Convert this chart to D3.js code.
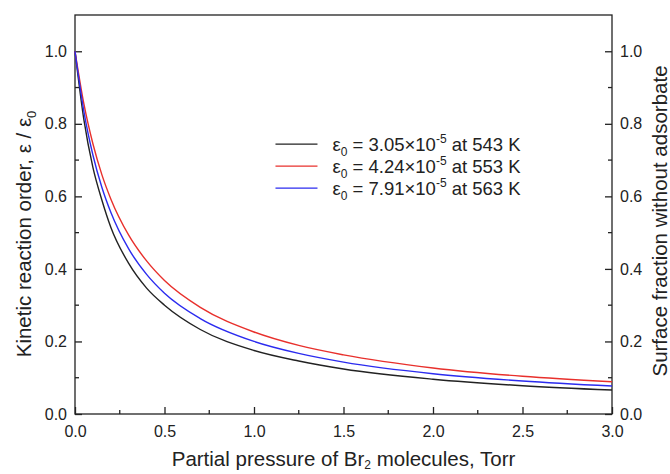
<!DOCTYPE html>
<html>
<head>
<meta charset="utf-8">
<script src="https://cdn.jsdelivr.net/npm/d3@7"></script>
<style>
  body { margin: 0; background: #fff; }
  svg { display: block; font-family: "Liberation Sans", Arial, sans-serif; }
  .tick text { fill: #222; font-size: 16px; }
  .axis path, .axis line { stroke: #222; stroke-width: 1.3; }
  .title { fill: #222; font-size: 20.5px; }
  .leg { fill: #222; font-size: 18.5px; }
</style>
</head>
<body>
<div id="chart"></div>
<script>
// Pressure grid (Torr) the curves were read at
const pressure = [0, 0.05, 0.1, 0.15, 0.2, 0.3, 0.4, 0.5, 0.7, 1.0, 1.25, 1.5, 2.0, 2.5, 3.0];
// eps / eps0
const k543 = [1.0, 0.81, 0.68, 0.59, 0.515, 0.415, 0.347, 0.30, 0.233, 0.175, 0.146, 0.124, 0.096, 0.078, 0.066];
const k553 = [1.0, 0.854, 0.745, 0.66, 0.593, 0.493, 0.422, 0.368, 0.294, 0.226, 0.189, 0.163, 0.127, 0.104, 0.089];
const k563 = [1.0, 0.833, 0.714, 0.625, 0.556, 0.455, 0.385, 0.333, 0.263, 0.20, 0.167, 0.143, 0.111, 0.091, 0.077];

const seriesNames = [
  { eps: "3.05", temp: "543", color: "#222222", vals: k543 },
  { eps: "4.24", temp: "553", color: "#e8302c", vals: k553 },
  { eps: "7.91", temp: "563", color: "#2b2bef", vals: k563 }
];
const xTicks = [0, 0.5, 1.0, 1.5, 2.0, 2.5, 3.0];
const yTicks = [0, 0.2, 0.4, 0.6, 0.8, 1.0];

const width = 670, height = 474;
const m = { top: 15, right: 58, bottom: 60, left: 75 };
const iW = width - m.left - m.right, iH = height - m.top - m.bottom;

const x = d3.scaleLinear([0, 3], [0, iW]);
const y = d3.scaleLinear([0, 1.1], [iH, 0]);

const svg = d3.select("#chart").append("svg").attr("width", width).attr("height", height);
const g = svg.append("g").attr("transform", `translate(${m.left},${m.top})`);

// frame
g.append("rect").attr("width", iW).attr("height", iH)
  .attr("fill", "none").attr("stroke", "#222").attr("stroke-width", 1.3);

// minor ticks (inward)
const xMinor = d3.range(0.25, 3, 0.5);
const yMinor = d3.range(0.1, 1.1, 0.2);
g.append("g").attr("class", "axis").selectAll("line").data(xMinor).join("line")
  .attr("x1", (d) => x(d)).attr("x2", (d) => x(d)).attr("y1", iH).attr("y2", iH - 4);
g.append("g").attr("class", "axis").selectAll("line").data(yMinor).join("line")
  .attr("x1", 0).attr("x2", 4).attr("y1", (d) => y(d)).attr("y2", (d) => y(d));
g.append("g").attr("class", "axis").selectAll("line").data(yMinor).join("line")
  .attr("x1", iW).attr("x2", iW - 4).attr("y1", (d) => y(d)).attr("y2", (d) => y(d));

// major axes, ticks point inside
const fmt = d3.format(".1f");
g.append("g").attr("class", "axis").attr("transform", `translate(0,${iH})`)
  .call(d3.axisBottom(x).tickValues(xTicks).tickFormat(fmt).tickSizeInner(-7).tickSizeOuter(0).tickPadding(12));
g.append("g").attr("class", "axis")
  .call(d3.axisLeft(y).tickValues(yTicks).tickFormat(fmt).tickSizeInner(-7).tickSizeOuter(0).tickPadding(8));
g.append("g").attr("class", "axis").attr("transform", `translate(${iW},0)`)
  .call(d3.axisRight(y).tickValues(yTicks).tickFormat(fmt).tickSizeInner(-7).tickSizeOuter(0).tickPadding(8));
g.selectAll(".axis .domain").remove();

// curves
const line = d3.line().x((d, i) => x(pressure[i])).y((d) => y(d)).curve(d3.curveMonotoneX);
for (const s of seriesNames) {
  g.append("path").datum(s.vals).attr("fill", "none")
    .attr("stroke", s.color).attr("stroke-width", 1.4).attr("d", line);
}

// legend
const leg = g.append("g").attr("transform", `translate(${x(1.12)},${y(0.744)})`);
seriesNames.forEach((s, i) => {
  const row = leg.append("g").attr("transform", `translate(0,${i * 22})`);
  row.append("line").attr("x1", 0).attr("x2", 42).attr("y1", 0).attr("y2", 0)
    .attr("stroke", s.color).attr("stroke-width", 1.4);
  const t = row.append("text").attr("class", "leg").attr("x", 57).attr("y", 6.5);
  t.append("tspan").text("ε");
  t.append("tspan").attr("dy", 5).attr("font-size", 12).text("0");
  t.append("tspan").attr("dy", -5).text(` = ${s.eps}×10`);
  t.append("tspan").attr("dy", -8).attr("font-size", 12).text("-5");
  t.append("tspan").attr("dy", 8).text(` at ${s.temp} K`);
});

// axis titles
const xt = svg.append("text").attr("class", "title").attr("text-anchor", "middle")
  .attr("x", m.left + iW / 2).attr("y", 466);
xt.append("tspan").text("Partial pressure of Br");
xt.append("tspan").attr("dy", 3).attr("font-size", 12).text("2");
xt.append("tspan").attr("dy", -3).text(" molecules, Torr");

const yl = svg.append("text").attr("class", "title").attr("text-anchor", "middle")
  .attr("transform", `translate(31,234) rotate(-90)`);
yl.append("tspan").text("Kinetic reaction order,  ε / ε");
yl.append("tspan").attr("dy", 5).attr("font-size", 13).text("0");

svg.append("text").attr("class", "title").attr("text-anchor", "middle")
  .attr("font-size", 21)
  .attr("transform", `translate(667,221) rotate(-90)`)
  .text("Surface fraction without adsorbate");
</script>
</body>
</html>
